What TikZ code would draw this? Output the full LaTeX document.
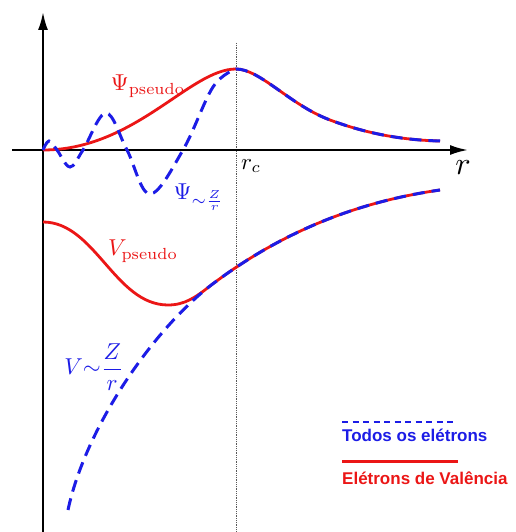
\documentclass[tikz,border=0pt]{standalone}
\usepackage{amsmath}
\usepackage{fontspec}
\newfontfamily\legendfont{Liberation Sans}
\usepackage{tikz}
\usetikzlibrary{arrows.meta, positioning}
\definecolor{valred}{RGB}{235,22,22}
\definecolor{allblue}{RGB}{28,28,230}
\tikzset{
  axisline/.style={
    line width=2.2pt, -{Latex[length=18pt, width=10pt]}
  },
  rcline/.style={
    densely dotted, gray!70!black, line width=0.8pt
  },
  valcurve/.style={
    valred, line width=2.8pt
  },
  allcurve/.style={
    allblue, line width=3pt, dash pattern=on 12pt off 7pt
  },
  curvelabel/.style={
    inner sep=0pt, scale=2.3
  },
  legendtext/.style={
    font=\legendfont\bfseries\fontsize{17}{20}\selectfont,
    anchor=west, inner sep=0pt
  },
}

\begin{document}
\begin{tikzpicture}[x=1pt, y=-1pt]
  \useasboundingbox (0,0) rectangle (515,532);

  % --- Axes ---
  \coordinate (origin) at (43,150);
  \coordinate (ybot) at (43,532);
  \coordinate (ytop) at (43,12);
  \coordinate (xleft) at (12,150);
  \coordinate (xright) at (468,150);
  \coordinate (rctop) at (236,43);
  \coordinate (rcbot) at (236,532);
  \draw[rcline] (rctop) -- (rcbot);
  \draw[axisline] (ybot) -- (ytop);
  \draw[axisline] (xleft) -- (xright);
  \node[curvelabel] (rc) at (251,166) {$r_c$};
  \node[curvelabel, scale=1.4] (rlab) at (463,168) {$r$};

  % --- Wave functions ---
  \draw[valcurve] (origin) .. controls (135,150) and (190,69) .. (236,69)
    .. controls (260,69) and (290,105) .. (330,120)
    .. controls (365,133) and (400,140) .. (440,141);
  \draw[allcurve] plot[smooth, tension=0.6] coordinates {
      (43,150) (49,141) (57,150) (70,167) (83,150) (106,113) (127,150)
      (150,194) (183,150) (213,87) (236,69)}
    .. controls (260,69) and (290,105) .. (330,120)
    .. controls (365,133) and (400,140) .. (440,141);
  \node[curvelabel, valred] (psipseudo) at (148,86) {$\Psi_{\mathrm{pseudo}}$};
  \node[curvelabel, allblue] (psiz) at (199,197) {$\Psi_{{\sim}\frac{Z}{r}}$};

  % --- Potentials ---
  \draw[valcurve] (43,222) .. controls (95,222) and (115,305) .. (168,305)
    .. controls (185,305) and (196,297) .. (210,286)
    .. controls (290,225) and (370,200) .. (440,190);
  \draw[allcurve] (68,510) .. controls (85,430) and (150,333) .. (210,286)
    .. controls (290,225) and (370,200) .. (440,190);
  \node[curvelabel, valred] (vpseudo) at (143,251) {$V_{\mathrm{pseudo}}$};
  \node[curvelabel, allblue] (vz) at (94,367) {$V{\sim}\dfrac{Z}{r}$};

  % --- Legend ---
  \coordinate (allA) at (342,422);
  \coordinate (allB) at (456,422);
  \coordinate (valA) at (342,461);
  \coordinate (valB) at (458,461);
  \draw[allblue, line width=2.5pt, dash pattern=on 6pt off 4.5pt] (allA) -- (allB);
  \node[legendtext, text=allblue] (legall) at (342,435) {Todos os elétrons};
  \draw[valred, line width=3pt] (valA) -- (valB);
  \node[legendtext, text=valred] (legval) at (342,478) {Elétrons de Valência};

\end{tikzpicture}
\end{document}
